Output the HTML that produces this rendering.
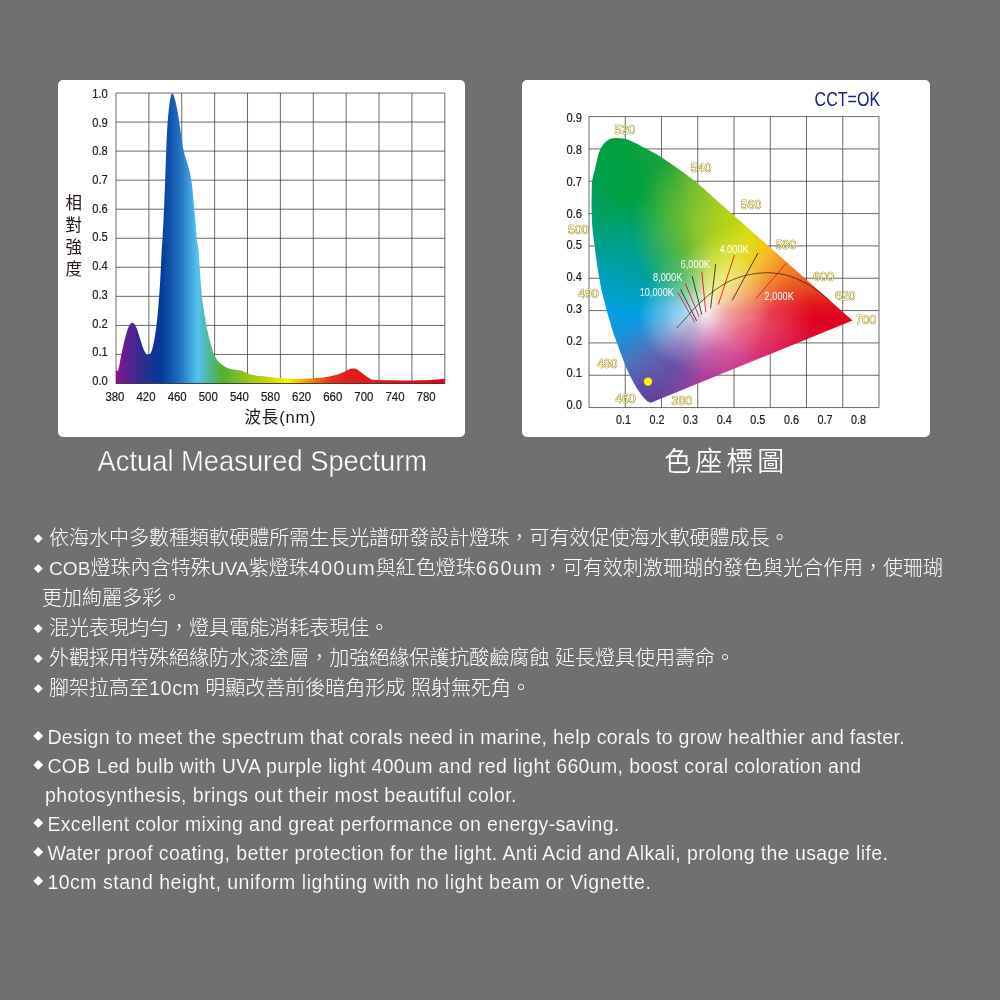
<!DOCTYPE html>
<html lang="zh-Hant"><head><meta charset="utf-8"><title>Spectrum</title>
<style>
html,body{margin:0;padding:0;background:#707070;}
body{width:1000px;height:1000px;position:relative;overflow:hidden;font-family:"Liberation Sans","Noto Sans CJK TC",sans-serif;color:#fff;}
.panel{position:absolute;background:#fff;border-radius:5px;}
svg{position:absolute;left:0;top:0;}
svg text{font-family:"Liberation Sans","Noto Sans CJK TC",sans-serif;}
.ln{position:absolute;left:0;white-space:nowrap;color:#fff;}
.zh{font-size:20.03px;line-height:30px;font-weight:300;}
.en{font-size:19.5px;line-height:29px;}
.bu{font-size:9px;letter-spacing:0;display:inline-block;width:16.8px;position:relative;top:-3.1px;left:1.5px}
.en .bu{font-size:10px;top:-3.7px;width:14.6px;margin-left:-.4px;left:.5px}
.la{letter-spacing:1.15px;-webkit-text-stroke:.2px #707070;}
.lc{font-size:19.2px;-webkit-text-stroke:.2px #707070;}
.en .tx{-webkit-text-stroke:.15px #707070;}
</style></head><body>

<div class="panel" style="left:57.5px;top:79.5px;width:407.5px;height:357.2px"></div>
<div class="panel" style="left:522px;top:79.5px;width:407.5px;height:357.2px"></div>
<svg width="1000" height="1000" viewBox="0 0 1000 1000">
<defs><linearGradient id="sp" gradientUnits="userSpaceOnUse" x1="116" y1="0" x2="445" y2="0">
<stop offset="0.0000" stop-color="#8c1487"/>
<stop offset="0.0365" stop-color="#5a2090"/>
<stop offset="0.0790" stop-color="#2d2e8f"/>
<stop offset="0.1368" stop-color="#04389a"/>
<stop offset="0.1945" stop-color="#2272c0"/>
<stop offset="0.2477" stop-color="#55c3f1"/>
<stop offset="0.2796" stop-color="#4fb7a0"/>
<stop offset="0.3222" stop-color="#52b031"/>
<stop offset="0.3921" stop-color="#8fc31f"/>
<stop offset="0.4620" stop-color="#c4d700"/>
<stop offset="0.5228" stop-color="#fff100"/>
<stop offset="0.5836" stop-color="#f39800"/>
<stop offset="0.6444" stop-color="#e6391e"/>
<stop offset="0.6960" stop-color="#e21f1f"/>
<stop offset="1.0000" stop-color="#e60012"/>
</linearGradient></defs>
<path d="M116.00 93.00V383.50M116.00 93.00H444.80M148.88 93.00V383.50M116.00 122.05H444.80M181.76 93.00V383.50M116.00 151.10H444.80M214.64 93.00V383.50M116.00 180.15H444.80M247.52 93.00V383.50M116.00 209.20H444.80M280.40 93.00V383.50M116.00 238.25H444.80M313.28 93.00V383.50M116.00 267.30H444.80M346.16 93.00V383.50M116.00 296.35H444.80M379.04 93.00V383.50M116.00 325.40H444.80M411.92 93.00V383.50M116.00 354.45H444.80M444.80 93.00V383.50M116.00 383.50H444.80" stroke="#3f3737" stroke-width="0.75" fill="none"/>
<path d="M116.00 370.00C116.38 370.00 117.38 372.50 118.25 370.00C119.12 367.50 120.12 360.25 121.25 355.00C122.38 349.75 123.75 343.25 125.00 338.50C126.25 333.75 127.50 329.12 128.75 326.50C130.00 323.88 131.25 322.62 132.50 322.75C133.75 322.88 135.00 324.62 136.25 327.25C137.50 329.88 138.75 334.75 140.00 338.50C141.25 342.25 142.50 347.00 143.75 349.75C145.00 352.50 146.25 354.62 147.50 355.00C148.75 355.38 150.12 354.50 151.25 352.00C152.38 349.50 153.38 344.50 154.25 340.00C155.12 335.50 155.82 330.50 156.50 325.00C157.18 319.50 157.68 314.50 158.30 307.00C158.93 299.50 159.68 289.50 160.25 280.00C160.82 270.50 161.38 256.67 161.75 250.00C162.12 243.33 162.12 246.67 162.50 240.00C162.88 233.33 163.55 220.00 164.00 210.00C164.45 200.00 164.82 190.00 165.20 180.00C165.57 170.00 165.90 158.75 166.25 150.00C166.60 141.25 166.93 133.75 167.30 127.50C167.68 121.25 168.05 117.00 168.50 112.50C168.95 108.00 169.38 103.75 170.00 100.50C170.62 97.25 171.38 93.00 172.25 93.00C173.12 93.00 174.25 96.75 175.25 100.50C176.25 104.25 177.38 110.50 178.25 115.50C179.12 120.50 179.62 124.75 180.50 130.50C181.38 136.25 182.50 145.00 183.50 150.00C184.50 155.00 185.50 157.00 186.50 160.50C187.50 164.00 188.62 167.25 189.50 171.00C190.38 174.75 191.12 178.50 191.75 183.00C192.38 187.50 192.75 192.75 193.25 198.00C193.75 203.25 194.12 207.50 194.75 214.50C195.38 221.50 196.38 234.08 197.00 240.00C197.62 245.92 198.00 244.58 198.50 250.00C199.00 255.42 199.45 265.00 200.00 272.50C200.55 280.00 201.05 288.00 201.80 295.00C202.55 302.00 203.55 308.50 204.50 314.50C205.45 320.50 206.38 325.75 207.50 331.00C208.62 336.25 210.00 341.75 211.25 346.00C212.50 350.25 213.62 353.75 215.00 356.50C216.38 359.25 217.75 360.75 219.50 362.50C221.25 364.25 223.25 365.83 225.50 367.00C227.75 368.17 230.50 368.92 233.00 369.50C235.50 370.08 238.50 370.04 240.50 370.50C242.50 370.96 243.25 371.58 245.00 372.25C246.75 372.92 248.33 373.86 251.00 374.50C253.67 375.14 255.83 375.48 261.00 376.10C266.17 376.72 275.00 377.75 282.00 378.20C289.00 378.65 296.70 378.87 303.00 378.80C309.30 378.73 314.90 378.32 319.80 377.80C324.70 377.28 328.55 376.58 332.40 375.70C336.25 374.82 340.27 373.48 342.90 372.50C345.53 371.52 346.45 370.45 348.20 369.80C349.95 369.15 351.83 368.60 353.40 368.60C354.97 368.60 355.85 368.80 357.60 369.80C359.35 370.80 361.80 373.10 363.90 374.60C366.00 376.10 368.10 377.88 370.20 378.80C372.30 379.72 370.20 379.82 376.50 380.10C382.80 380.38 399.25 380.50 408.00 380.50C416.75 380.50 422.87 380.38 429.00 380.10C435.13 379.82 442.17 379.02 444.80 378.80 L444.8 383.5 L116 383.5 Z" fill="url(#sp)"/>
<path d="M116.00 383.50H444.80" stroke="#3e3a39" stroke-width="0.9"/>
<text x="107.8" y="97.90" font-size="12.3" stroke="#231815" stroke-width="0.2" fill="#231815" text-anchor="end" textLength="15.5" lengthAdjust="spacingAndGlyphs">1.0</text>
<text x="107.8" y="126.60" font-size="12.3" stroke="#231815" stroke-width="0.2" fill="#231815" text-anchor="end" textLength="15.5" lengthAdjust="spacingAndGlyphs">0.9</text>
<text x="107.8" y="155.30" font-size="12.3" stroke="#231815" stroke-width="0.2" fill="#231815" text-anchor="end" textLength="15.5" lengthAdjust="spacingAndGlyphs">0.8</text>
<text x="107.8" y="184.00" font-size="12.3" stroke="#231815" stroke-width="0.2" fill="#231815" text-anchor="end" textLength="15.5" lengthAdjust="spacingAndGlyphs">0.7</text>
<text x="107.8" y="212.70" font-size="12.3" stroke="#231815" stroke-width="0.2" fill="#231815" text-anchor="end" textLength="15.5" lengthAdjust="spacingAndGlyphs">0.6</text>
<text x="107.8" y="241.40" font-size="12.3" stroke="#231815" stroke-width="0.2" fill="#231815" text-anchor="end" textLength="15.5" lengthAdjust="spacingAndGlyphs">0.5</text>
<text x="107.8" y="270.10" font-size="12.3" stroke="#231815" stroke-width="0.2" fill="#231815" text-anchor="end" textLength="15.5" lengthAdjust="spacingAndGlyphs">0.4</text>
<text x="107.8" y="298.80" font-size="12.3" stroke="#231815" stroke-width="0.2" fill="#231815" text-anchor="end" textLength="15.5" lengthAdjust="spacingAndGlyphs">0.3</text>
<text x="107.8" y="327.50" font-size="12.3" stroke="#231815" stroke-width="0.2" fill="#231815" text-anchor="end" textLength="15.5" lengthAdjust="spacingAndGlyphs">0.2</text>
<text x="107.8" y="356.20" font-size="12.3" stroke="#231815" stroke-width="0.2" fill="#231815" text-anchor="end" textLength="15.5" lengthAdjust="spacingAndGlyphs">0.1</text>
<text x="107.8" y="384.90" font-size="12.3" stroke="#231815" stroke-width="0.2" fill="#231815" text-anchor="end" textLength="15.5" lengthAdjust="spacingAndGlyphs">0.0</text>
<text x="105.40" y="400.7" font-size="12.3" stroke="#231815" stroke-width="0.2" fill="#231815" textLength="19" lengthAdjust="spacingAndGlyphs">380</text>
<text x="136.52" y="400.7" font-size="12.3" stroke="#231815" stroke-width="0.2" fill="#231815" textLength="19" lengthAdjust="spacingAndGlyphs">420</text>
<text x="167.64" y="400.7" font-size="12.3" stroke="#231815" stroke-width="0.2" fill="#231815" textLength="19" lengthAdjust="spacingAndGlyphs">460</text>
<text x="198.76" y="400.7" font-size="12.3" stroke="#231815" stroke-width="0.2" fill="#231815" textLength="19" lengthAdjust="spacingAndGlyphs">500</text>
<text x="229.88" y="400.7" font-size="12.3" stroke="#231815" stroke-width="0.2" fill="#231815" textLength="19" lengthAdjust="spacingAndGlyphs">540</text>
<text x="261.00" y="400.7" font-size="12.3" stroke="#231815" stroke-width="0.2" fill="#231815" textLength="19" lengthAdjust="spacingAndGlyphs">580</text>
<text x="292.12" y="400.7" font-size="12.3" stroke="#231815" stroke-width="0.2" fill="#231815" textLength="19" lengthAdjust="spacingAndGlyphs">620</text>
<text x="323.24" y="400.7" font-size="12.3" stroke="#231815" stroke-width="0.2" fill="#231815" textLength="19" lengthAdjust="spacingAndGlyphs">660</text>
<text x="354.36" y="400.7" font-size="12.3" stroke="#231815" stroke-width="0.2" fill="#231815" textLength="19" lengthAdjust="spacingAndGlyphs">700</text>
<text x="385.48" y="400.7" font-size="12.3" stroke="#231815" stroke-width="0.2" fill="#231815" textLength="19" lengthAdjust="spacingAndGlyphs">740</text>
<text x="416.60" y="400.7" font-size="12.3" stroke="#231815" stroke-width="0.2" fill="#231815" textLength="19" lengthAdjust="spacingAndGlyphs">780</text>
<text x="244.5" y="423.2" font-size="16.5" fill="#231815" textLength="71" lengthAdjust="spacing">波長(nm)</text>
<text x="73.7" y="209.10" font-size="16.5" fill="#231815" text-anchor="middle">相</text>
<text x="73.7" y="230.90" font-size="16.5" fill="#231815" text-anchor="middle">對</text>
<text x="73.7" y="253.10" font-size="16.5" fill="#231815" text-anchor="middle">強</text>
<text x="73.7" y="275.40" font-size="16.5" fill="#231815" text-anchor="middle">度</text>
</svg>
<svg width="1000" height="1000" viewBox="0 0 1000 1000">
<path d="M589.00 116.60V407.57M625.25 116.60V407.57M661.50 116.60V407.57M697.75 116.60V407.57M734.00 116.60V407.57M770.25 116.60V407.57M806.50 116.60V407.57M842.75 116.60V407.57M879.00 116.60V407.57M589.00 116.60H879.00M589.00 148.93H879.00M589.00 181.26H879.00M589.00 213.59H879.00M589.00 245.92H879.00M589.00 278.25H879.00M589.00 310.58H879.00M589.00 342.91H879.00M589.00 375.24H879.00M589.00 407.57H879.00" stroke="#3f3737" stroke-width="0.75" fill="none"/>
<text x="582" y="121.90" font-size="12.3" stroke="#231815" stroke-width="0.2" fill="#231815" text-anchor="end" textLength="15.5" lengthAdjust="spacingAndGlyphs">0.9</text>
<text x="582" y="153.79" font-size="12.3" stroke="#231815" stroke-width="0.2" fill="#231815" text-anchor="end" textLength="15.5" lengthAdjust="spacingAndGlyphs">0.8</text>
<text x="582" y="185.68" font-size="12.3" stroke="#231815" stroke-width="0.2" fill="#231815" text-anchor="end" textLength="15.5" lengthAdjust="spacingAndGlyphs">0.7</text>
<text x="582" y="217.57" font-size="12.3" stroke="#231815" stroke-width="0.2" fill="#231815" text-anchor="end" textLength="15.5" lengthAdjust="spacingAndGlyphs">0.6</text>
<text x="582" y="249.46" font-size="12.3" stroke="#231815" stroke-width="0.2" fill="#231815" text-anchor="end" textLength="15.5" lengthAdjust="spacingAndGlyphs">0.5</text>
<text x="582" y="281.35" font-size="12.3" stroke="#231815" stroke-width="0.2" fill="#231815" text-anchor="end" textLength="15.5" lengthAdjust="spacingAndGlyphs">0.4</text>
<text x="582" y="313.24" font-size="12.3" stroke="#231815" stroke-width="0.2" fill="#231815" text-anchor="end" textLength="15.5" lengthAdjust="spacingAndGlyphs">0.3</text>
<text x="582" y="345.13" font-size="12.3" stroke="#231815" stroke-width="0.2" fill="#231815" text-anchor="end" textLength="15.5" lengthAdjust="spacingAndGlyphs">0.2</text>
<text x="582" y="377.02" font-size="12.3" stroke="#231815" stroke-width="0.2" fill="#231815" text-anchor="end" textLength="15.5" lengthAdjust="spacingAndGlyphs">0.1</text>
<text x="582" y="408.91" font-size="12.3" stroke="#231815" stroke-width="0.2" fill="#231815" text-anchor="end" textLength="15.5" lengthAdjust="spacingAndGlyphs">0.0</text>
<text x="623.40" y="423.8" font-size="12.3" stroke="#231815" stroke-width="0.2" fill="#231815" text-anchor="middle" textLength="15" lengthAdjust="spacingAndGlyphs">0.1</text>
<text x="657.00" y="423.8" font-size="12.3" stroke="#231815" stroke-width="0.2" fill="#231815" text-anchor="middle" textLength="15" lengthAdjust="spacingAndGlyphs">0.2</text>
<text x="690.60" y="423.8" font-size="12.3" stroke="#231815" stroke-width="0.2" fill="#231815" text-anchor="middle" textLength="15" lengthAdjust="spacingAndGlyphs">0.3</text>
<text x="724.20" y="423.8" font-size="12.3" stroke="#231815" stroke-width="0.2" fill="#231815" text-anchor="middle" textLength="15" lengthAdjust="spacingAndGlyphs">0.4</text>
<text x="757.80" y="423.8" font-size="12.3" stroke="#231815" stroke-width="0.2" fill="#231815" text-anchor="middle" textLength="15" lengthAdjust="spacingAndGlyphs">0.5</text>
<text x="791.40" y="423.8" font-size="12.3" stroke="#231815" stroke-width="0.2" fill="#231815" text-anchor="middle" textLength="15" lengthAdjust="spacingAndGlyphs">0.6</text>
<text x="825.00" y="423.8" font-size="12.3" stroke="#231815" stroke-width="0.2" fill="#231815" text-anchor="middle" textLength="15" lengthAdjust="spacingAndGlyphs">0.7</text>
<text x="858.60" y="423.8" font-size="12.3" stroke="#231815" stroke-width="0.2" fill="#231815" text-anchor="middle" textLength="15" lengthAdjust="spacingAndGlyphs">0.8</text>
<text x="814.6" y="106.3" font-size="19.5" fill="#1d2088" textLength="65.5" lengthAdjust="spacingAndGlyphs">CCT=OK</text>
</svg>
<div style="position:absolute;left:0;top:0;width:1000px;height:1000px;clip-path:path('M650.80 402.80C650.30 402.60 649.10 402.60 647.80 401.60C646.50 400.60 644.80 399.00 643.00 396.80C641.20 394.60 639.00 391.60 637.00 388.40C635.00 385.20 633.00 381.60 631.00 377.60C629.00 373.60 626.90 369.00 625.00 364.40C623.10 359.80 621.40 354.80 619.60 350.00C617.80 345.20 615.90 340.60 614.20 335.60C612.50 330.60 610.90 325.20 609.40 320.00C607.90 314.80 606.50 309.40 605.20 304.40C603.90 299.40 602.47 293.73 601.60 290.00C600.73 286.27 600.77 286.33 600.00 282.00C599.23 277.67 597.90 270.00 597.00 264.00C596.10 258.00 595.37 252.00 594.60 246.00C593.83 240.00 592.90 234.00 592.40 228.00C591.90 222.00 591.72 216.00 591.60 210.00C591.48 204.00 591.58 197.00 591.70 192.00C591.82 187.00 591.72 183.93 592.30 180.00C592.88 176.07 594.22 172.53 595.20 168.40C596.18 164.27 597.00 159.00 598.20 155.20C599.40 151.40 600.80 148.10 602.40 145.60C604.00 143.10 605.70 141.47 607.80 140.20C609.90 138.93 612.40 138.27 615.00 138.00C617.60 137.73 620.40 137.93 623.40 138.60C626.40 139.27 629.40 140.43 633.00 142.00C636.60 143.57 641.00 145.90 645.00 148.00C649.00 150.10 653.00 152.20 657.00 154.60C661.00 157.00 665.00 159.70 669.00 162.40C673.00 165.10 677.00 167.90 681.00 170.80C685.00 173.70 689.00 176.62 693.00 179.80C697.00 182.98 703.00 188.22 705.00 189.90L852.5 320.5Z');background:radial-gradient(circle 66px at 705px 310px, rgba(246,245,248,1) 0%, rgba(246,245,248,0.82) 12%, rgba(248,248,250,0.46) 35%, rgba(252,252,252,0.19) 62%, rgba(255,255,255,0) 100%), radial-gradient(circle 52px at 731px 279px, rgba(250,244,170,0.5) 0%, rgba(250,240,120,0.28) 50%, rgba(250,235,80,0) 100%), radial-gradient(circle 42px at 680px 322px, rgba(225,228,245,0.4) 0%, rgba(220,225,245,0.22) 50%, rgba(215,220,245,0) 100%), radial-gradient(ellipse 70px 80px at 702px 228px, rgba(175,210,45,0.68) 0%, rgba(170,208,45,0.42) 50%, rgba(160,205,45,0) 100%), radial-gradient(ellipse 52px 62px at 640px 262px, rgba(0,160,175,0.65) 0%, rgba(0,160,175,0.4) 50%, rgba(0,160,175,0) 100%), radial-gradient(circle 46px at 657px 362px, rgba(105,115,190,0.5) 0%, rgba(105,115,190,0.3) 50%, rgba(105,115,190,0) 100%), radial-gradient(ellipse 62px 38px at 752px 318px, rgba(243,140,150,0.55) 0%, rgba(243,140,150,0.32) 50%, rgba(243,140,150,0) 100%), conic-gradient(from 0deg at 702.0px 311.0px, #6ab82e 0deg, #b5d100 12deg, #ece000 30deg, #f5c800 42deg, #f5b020 50deg, #ee7a28 67deg, #e64a24 78deg, #e2101c 88deg, #e0001e 94deg, #dc1040 107deg, #d63a86 136deg, #c23e92 160deg, #a8409c 182deg, #5f3a96 209deg, #5a48a0 221deg, #3a78c0 236deg, #1a90d8 250deg, #00a0e8 270deg, #00a0c0 289deg, #00a080 305deg, #00a048 323deg, #00a040 334deg, #20a43a 348deg, #6ab82e 360deg);"></div>
<svg width="1000" height="1000" viewBox="0 0 1000 1000">
<path d="M676.60 328.20C678.00 326.67 681.93 322.42 685.00 319.00C688.07 315.58 690.50 312.13 695.00 307.70C699.50 303.27 706.33 296.78 712.00 292.40C717.67 288.02 723.33 284.23 729.00 281.40C734.67 278.57 740.33 276.82 746.00 275.40C751.67 273.98 757.90 273.23 763.00 272.90C768.10 272.57 772.07 272.83 776.60 273.40C781.13 273.97 785.38 274.68 790.20 276.30C795.02 277.92 800.97 280.70 805.50 283.10C810.03 285.50 813.43 287.88 817.40 290.70C821.37 293.52 827.32 298.45 829.30 300.00" stroke="#231815" stroke-width="0.7" fill="none"/>
<path d="M677.9 292.6L694.8 322.3" stroke="#e60012" stroke-width="0.8"/>
<path d="M680.5 289.3L696.6 320.8" stroke="#231815" stroke-width="0.8"/>
<path d="M685.3 283.4L699.2 316.8" stroke="#e60012" stroke-width="0.8"/>
<path d="M692.2 276.1L701.8 314.6" stroke="#231815" stroke-width="0.8"/>
<path d="M701.8 271.7L705.8 312.4" stroke="#e60012" stroke-width="0.8"/>
<path d="M715.7 264.0L710.6 308.4" stroke="#231815" stroke-width="0.8"/>
<path d="M734.4 255.2L718.3 304.7" stroke="#e60012" stroke-width="0.8"/>
<path d="M758.0 253.0L732.2 300.3" stroke="#231815" stroke-width="0.8"/>
<path d="M786.1 263.3L755.8 298.8" stroke="#e60012" stroke-width="0.8"/>
<text x="614.5" y="134.2" font-size="12.8" fill="#fff799" stroke="#5e5426" stroke-width="0.65" paint-order="stroke" textLength="20.6" lengthAdjust="spacingAndGlyphs">520</text>
<text x="690.7" y="171.9" font-size="12.8" fill="#fff799" stroke="#5e5426" stroke-width="0.65" paint-order="stroke" textLength="20.6" lengthAdjust="spacingAndGlyphs">540</text>
<text x="740.7" y="208.8" font-size="12.8" fill="#fff799" stroke="#5e5426" stroke-width="0.65" paint-order="stroke" textLength="20.6" lengthAdjust="spacingAndGlyphs">560</text>
<text x="775.5" y="248.8" font-size="12.8" fill="#fff799" stroke="#5e5426" stroke-width="0.65" paint-order="stroke" textLength="20.6" lengthAdjust="spacingAndGlyphs">580</text>
<text x="813.2" y="281.3" font-size="12.8" fill="#fff799" stroke="#5e5426" stroke-width="0.65" paint-order="stroke" textLength="20.6" lengthAdjust="spacingAndGlyphs">600</text>
<text x="834.9" y="299.5" font-size="12.8" fill="#fff799" stroke="#5e5426" stroke-width="0.65" paint-order="stroke" textLength="20.6" lengthAdjust="spacingAndGlyphs">620</text>
<text x="855.5" y="323.8" font-size="12.8" fill="#fff799" stroke="#5e5426" stroke-width="0.65" paint-order="stroke" textLength="20.6" lengthAdjust="spacingAndGlyphs">700</text>
<text x="568.0" y="234.2" font-size="12.8" fill="#fff799" stroke="#5e5426" stroke-width="0.65" paint-order="stroke" textLength="20.6" lengthAdjust="spacingAndGlyphs">500</text>
<text x="578.1" y="298.3" font-size="12.8" fill="#fff799" stroke="#5e5426" stroke-width="0.65" paint-order="stroke" textLength="20.6" lengthAdjust="spacingAndGlyphs">490</text>
<text x="596.9" y="368.0" font-size="12.8" fill="#fff799" stroke="#5e5426" stroke-width="0.65" paint-order="stroke" textLength="20.6" lengthAdjust="spacingAndGlyphs">480</text>
<text x="615.1" y="402.8" font-size="12.8" fill="#fff799" stroke="#5e5426" stroke-width="0.65" paint-order="stroke" textLength="20.6" lengthAdjust="spacingAndGlyphs">460</text>
<text x="671.6" y="405.0" font-size="12.8" fill="#fff799" stroke="#5e5426" stroke-width="0.65" paint-order="stroke" textLength="20.6" lengthAdjust="spacingAndGlyphs">380</text>
<text x="639.8" y="295.5" font-size="10" fill="#fff" textLength="34.0" lengthAdjust="spacingAndGlyphs">10,000K</text>
<text x="653.0" y="280.5" font-size="10" fill="#fff" textLength="29.3" lengthAdjust="spacingAndGlyphs">8,000K</text>
<text x="680.5" y="268.4" font-size="10" fill="#fff" textLength="29.6" lengthAdjust="spacingAndGlyphs">6,000K</text>
<text x="719.4" y="252.6" font-size="10" fill="#fff" textLength="29.3" lengthAdjust="spacingAndGlyphs">4,000K</text>
<text x="764.6" y="300.3" font-size="10" fill="#fff" textLength="29.2" lengthAdjust="spacingAndGlyphs">2,000K</text>
<circle cx="648" cy="381.6" r="4.2" fill="#fff100"/>
<text x="97.6" y="470.9" font-size="28.7" fill="#fff" stroke="#707070" stroke-width="0.4" textLength="329.5" lengthAdjust="spacingAndGlyphs">Actual Measured Specturm</text>
<text x="664.3" y="470.8" font-size="27" fill="#fff" font-weight="350" letter-spacing="4">色座標圖</text>
</svg>
<div class="ln zh" style="left:32.2px;top:523px"><span class="bu">◆</span>依海水中多數種類軟硬體所需生長光譜研發設計燈珠，可有效促使海水軟硬體成長。</div>
<div class="ln zh" style="left:32.2px;top:553px"><span class="bu">◆</span><span class="lc">COB</span>燈珠內含特殊<span class="lc">UVA</span>紫燈珠<span class="la">400um</span>與紅色燈珠<span class="la">660um</span>，可有效刺激珊瑚的發色與光合作用，使珊瑚</div>
<div class="ln zh" style="left:42px;top:583px">更加絢麗多彩。</div>
<div class="ln zh" style="left:32.2px;top:613px"><span class="bu">◆</span>混光表現均勻，燈具電能消耗表現佳。</div>
<div class="ln zh" style="left:32.2px;top:643px"><span class="bu">◆</span>外觀採用特殊絕緣防水漆塗層，加強絕緣保護抗酸鹼腐蝕 延長燈具使用壽命。</div>
<div class="ln zh" style="left:32.2px;top:673px"><span class="bu">◆</span>腳架拉高至<span class="la" style="letter-spacing:.4px">10cm</span> 明顯改善前後暗角形成 照射無死角。</div>
<div class="ln en" id="en0" style="left:33.2px;top:722.5px"><span class="bu">◆</span><span class="tx" style="letter-spacing:0.28px">Design to meet the spectrum that corals need in marine, help corals to grow healthier and faster.</span></div>
<div class="ln en" id="en1" style="left:33.2px;top:751.5px"><span class="bu">◆</span><span class="tx" style="letter-spacing:0.35px">COB Led bulb with UVA purple light 400um and red light 660um, boost coral coloration and</span></div>
<div class="ln en" id="en2" style="left:45px;top:780.5px"><span class="tx" style="letter-spacing:0.43px">photosynthesis, brings out their most beautiful color.</span></div>
<div class="ln en" id="en3" style="left:33.2px;top:809.5px"><span class="bu">◆</span><span class="tx" style="letter-spacing:0.33px">Excellent color mixing and great performance on energy-saving.</span></div>
<div class="ln en" id="en4" style="left:33.2px;top:838.5px"><span class="bu">◆</span><span class="tx" style="letter-spacing:0.41px">Water proof coating, better protection for the light. Anti Acid and Alkali, prolong the usage life.</span></div>
<div class="ln en" id="en5" style="left:33.2px;top:867.5px"><span class="bu">◆</span><span class="tx" style="letter-spacing:0.51px">10cm stand height, uniform lighting with no light beam or Vignette.</span></div>
</body></html>
